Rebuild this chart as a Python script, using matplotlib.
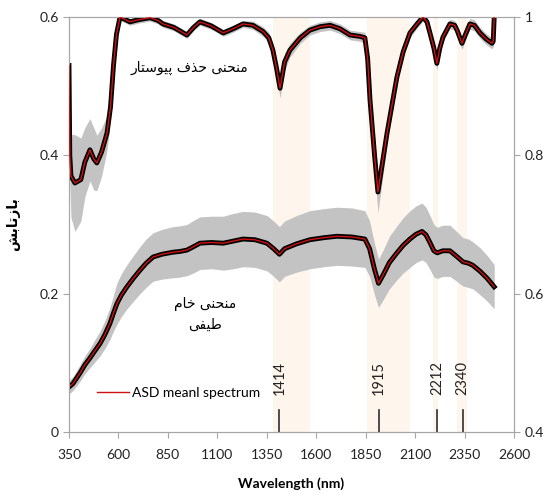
import matplotlib
matplotlib.use('Agg')
import matplotlib.pyplot as plt
from matplotlib.ticker import FormatStrFormatter

plt.rcParams['font.family'] = ['Lato', 'DejaVu Sans']

# continuum removed curve (right axis)
top_nm = [350, 354, 360, 380, 410, 430, 456, 475, 491, 515, 542, 560, 575, 590, 608, 630, 658, 700,
          760, 800, 825, 880, 946, 980, 1012, 1070, 1130, 1180, 1230, 1280, 1331, 1360, 1381, 1400,
          1417, 1440, 1467, 1520, 1568, 1620, 1670, 1720, 1771, 1820, 1846, 1860, 1872, 1895, 1912,
          1930, 1958, 2008, 2040, 2074, 2110, 2140, 2160, 2175, 2195, 2210, 2225, 2241, 2276, 2300,
          2312, 2337, 2355, 2377, 2400, 2428, 2460, 2489, 2495, 2500]
top_mean = [0.93, 0.80, 0.77, 0.76, 0.765, 0.79, 0.808, 0.795, 0.789, 0.805, 0.832, 0.87, 0.93, 0.975,
            1.0, 0.997, 0.993, 0.996, 0.999, 0.995, 0.99, 0.985, 0.974, 0.985, 0.993, 0.987, 0.977,
            0.983, 0.99, 0.988, 0.979, 0.97, 0.952, 0.925, 0.897, 0.935, 0.952, 0.97, 0.981, 0.986,
            0.988, 0.983, 0.974, 0.972, 0.97, 0.94, 0.88, 0.80, 0.747, 0.78, 0.832, 0.913, 0.95,
            0.977, 0.99, 1.0, 0.993, 0.977, 0.955, 0.933, 0.955, 0.971, 0.99, 0.988, 0.981, 0.962,
            0.975, 0.99, 0.988, 0.977, 0.968, 0.962, 0.965, 1.0]
top_std = [0.03, 0.04, 0.06, 0.07, 0.06, 0.05, 0.045, 0.045, 0.04, 0.035, 0.025, 0.02, 0.012, 0.008,
           0.005, 0.005, 0.005, 0.005, 0.005, 0.005, 0.005, 0.005, 0.005, 0.005, 0.005, 0.005, 0.005,
           0.005, 0.005, 0.006, 0.007, 0.008, 0.01, 0.012, 0.014, 0.012, 0.01, 0.008, 0.007, 0.007,
           0.007, 0.007, 0.007, 0.007, 0.008, 0.01, 0.015, 0.025, 0.03, 0.025, 0.015, 0.01, 0.008,
           0.007, 0.006, 0.006, 0.006, 0.007, 0.008, 0.01, 0.008, 0.007, 0.007, 0.007, 0.008, 0.009,
           0.008, 0.008, 0.008, 0.008, 0.008, 0.008, 0.008, 0.008]

# raw reflectance curve (left axis)
bot_nm = [350, 370, 405, 430, 456, 480, 507, 530, 557, 575, 593, 615, 643, 675, 709, 740, 775, 820,
          876, 910, 946, 980, 1012, 1070, 1130, 1180, 1230, 1290, 1351, 1385, 1414, 1440, 1500, 1568,
          1640, 1705, 1780, 1846, 1870, 1895, 1915, 1940, 1970, 2008, 2040, 2074, 2105, 2135, 2155,
          2175, 2195, 2212, 2240, 2276, 2310, 2342, 2370, 2392, 2430, 2465, 2500]
bot_mean = [0.065, 0.07, 0.085, 0.097, 0.107, 0.117, 0.128, 0.14, 0.157, 0.172, 0.186, 0.198, 0.21,
            0.222, 0.234, 0.244, 0.253, 0.257, 0.26, 0.261, 0.263, 0.268, 0.273, 0.274, 0.273, 0.276,
            0.279, 0.278, 0.273, 0.265, 0.257, 0.265, 0.272, 0.278, 0.281, 0.283, 0.282, 0.279, 0.265,
            0.235, 0.215, 0.228, 0.245, 0.259, 0.27, 0.279, 0.286, 0.29, 0.285, 0.274, 0.262, 0.259,
            0.262, 0.262, 0.254, 0.246, 0.244, 0.241, 0.232, 0.222, 0.21]
bot_std = [0.01, 0.01, 0.012, 0.013, 0.014, 0.016, 0.018, 0.02, 0.023, 0.026, 0.03, 0.031, 0.032,
           0.033, 0.034, 0.035, 0.035, 0.036, 0.037, 0.037, 0.037, 0.038, 0.038, 0.038, 0.039, 0.04,
           0.04, 0.04, 0.04, 0.04, 0.04, 0.04, 0.041, 0.042, 0.042, 0.042, 0.042, 0.041, 0.04, 0.037,
           0.035, 0.036, 0.038, 0.039, 0.04, 0.041, 0.041, 0.041, 0.04, 0.039, 0.038, 0.037, 0.037,
           0.037, 0.036, 0.035, 0.035, 0.034, 0.034, 0.033, 0.032]

bands = [(1381, 1568), (1857, 2074), (2190, 2215), (2312, 2362)]
features = [1414, 1915, 2212, 2340]
xticks = [350, 600, 850, 1100, 1350, 1600, 1850, 2100, 2350, 2600]

# persian labels, pre-shaped (presentation forms, visual order)
lbl_cr = '\uFEAD\uFE8E\uFE98\uFEB3\uFEEE\uFBFF\uFB58 \uFED1\uFEAC\uFEA3 \uFBFD\uFEE8\uFEA4\uFEE8\uFEE3'
lbl_raw = '\uFEE1\uFE8E\uFEA7 \uFBFD\uFEE8\uFEA4\uFEE8\uFEE3\n\uFBFD\uFED4\uFBFF\uFEC3'
lbl_y = '\uFEB6\uFE91\uFE8E\uFE97\uFEAF\uFE8E\uFE91'

fig = plt.figure(figsize=(5.45, 4.96), dpi=100)
ax = fig.add_axes([0.1266, 0.129, 0.8165, 0.8367])
ax2 = ax.twinx()

for a, b in bands:
    ax.axvspan(a, b, color='#fef5ec', lw=0, zorder=0)

lo = [m - s for m, s in zip(bot_mean, bot_std)]
hi = [m + s for m, s in zip(bot_mean, bot_std)]
ax.fill_between(bot_nm, lo, hi, color='#c3c3c3', lw=0, zorder=1)
ax.plot(bot_nm, bot_mean, color='black', lw=3.5, zorder=2)
ax.plot(bot_nm, bot_mean, color='#d01010', lw=1.0, zorder=3, label='ASD meanl spectrum')

lo = [m - s for m, s in zip(top_mean, top_std)]
hi = [m + s for m, s in zip(top_mean, top_std)]
ax2.fill_between(top_nm, lo, hi, color='#c3c3c3', lw=0, zorder=1)
ax2.plot(top_nm, top_mean, color='black', lw=3.5, zorder=2)
ax2.plot(top_nm, top_mean, color='#d01010', lw=1.0, zorder=3)

for f in features:
    ax.plot([f, f], [0, 0.032], color='#303030', lw=1.2, zorder=4)
    ax.text(f, 0.078, str(f), rotation=90, ha='center', va='center', fontsize=10.5, color='#222222')

ax.set_xlim(350, 2600)
ax.set_ylim(0, 0.6)
ax2.set_ylim(0.4, 1.0)
ax.set_xticks(xticks)
ax.set_yticks([0, 0.2, 0.4, 0.6])
ax2.set_yticks([0.4, 0.6, 0.8, 1.0])
ax.yaxis.set_major_formatter(FormatStrFormatter('%g'))
ax2.yaxis.set_major_formatter(FormatStrFormatter('%g'))

for a in (ax, ax2):
    for sp in a.spines.values():
        sp.set_color('#a6a6a6')
    a.tick_params(colors='#a6a6a6', labelcolor='#222222', labelsize=10, length=4, direction='out')
ax.tick_params(axis='x', pad=8)

ax.set_xlabel('Wavelength (nm)', fontsize=10, fontweight='bold', labelpad=12)
ax.set_ylabel(lbl_y, family=['DejaVu Sans'], fontsize=10, fontweight='bold', labelpad=14)

ax.text(957, 0.526, lbl_cr, family=['DejaVu Sans'], fontsize=10, ha='center', va='center')
ax.text(1040, 0.17, lbl_raw, family=['DejaVu Sans'], fontsize=10, ha='center', va='center',
        linespacing=1.7)

ax.legend(loc='center left', bbox_to_anchor=(0.035, 0.094), frameon=False, fontsize=10,
          handlelength=2.3, handletextpad=0.2)

fig.savefig('out.png', dpi=100)
